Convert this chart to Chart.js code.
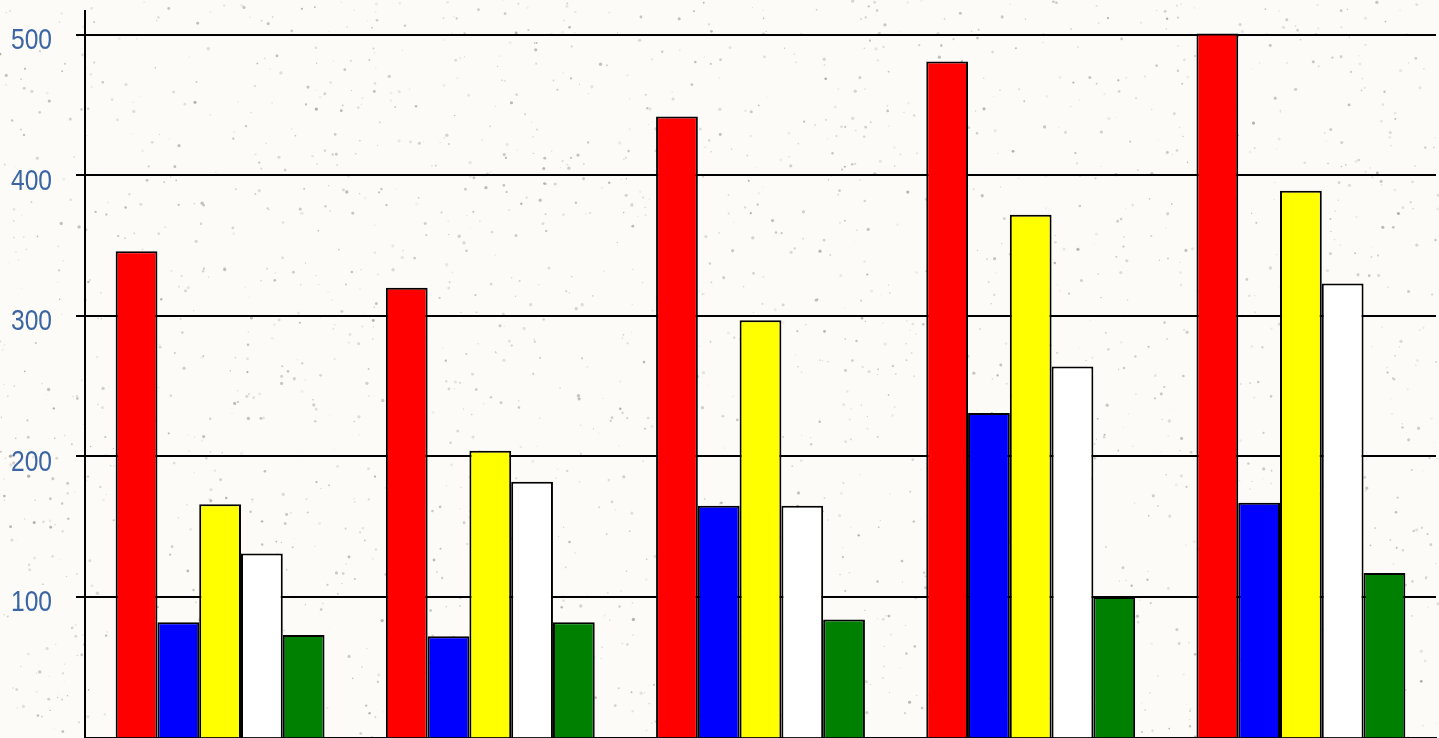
<!DOCTYPE html>
<html>
<head>
<meta charset="utf-8">
<script src="https://cdn.jsdelivr.net/npm/chart.js@4/dist/chart.umd.min.js"></script>
<style>
  html, body { margin: 0; padding: 0; overflow: hidden; background: #fcfbf8; }
  #wrap { width: 1439px; height: 738px; position: relative; }
</style>
</head>
<body>
<div id="wrap"><canvas id="c" width="1439" height="738"></canvas></div>
<script>
// Five groups, five series per group
const categories = ['1', '2', '3', '4', '5'];
const seriesRed    = [346, 320, 442, 481, 501];
const seriesBlue   = [82, 72, 165, 231, 167];
const seriesYellow = [166, 204, 297, 372, 389];
const seriesWhite  = [131, 182, 165, 264, 323];
const seriesGreen  = [73, 82, 84, 100, 117];
const yTicks = [100, 200, 300, 400, 500];

// Speckled paper background, drawn behind everything
const paperPlugin = {
  id: 'paper',
  beforeDraw(chart) {
    const ctx = chart.ctx;
    const w = chart.width, h = chart.height;
    ctx.save();
    ctx.fillStyle = '#fcfbf8';
    ctx.fillRect(0, 0, w, h);
    let seed = 12345;
    const rnd = () => { seed = (seed * 1103515245 + 12345) & 0x7fffffff; return seed / 0x7fffffff; };
    for (let i = 0; i < 2400; i++) {
      const x = rnd() * w, y = rnd() * h;
      const r = 0.5 + rnd() * 1.2;
      const a = 0.08 + rnd() * 0.4;
      const g = 90 + Math.floor(rnd() * 60);
      ctx.fillStyle = `rgba(${g},${g - 4},${g - 8},${a})`;
      ctx.beginPath();
      ctx.arc(x, y, r, 0, Math.PI * 2);
      ctx.fill();
    }
    ctx.restore();
  }
};

// Tall, narrow value labels placed on the y scale's tick positions
const yLabelPlugin = {
  id: 'yLabels',
  afterDraw(chart) {
    const ctx = chart.ctx;
    const scale = chart.scales.y;
    const right = scale.right - 9 - 24;
    ctx.save();
    ctx.fillStyle = '#3b66a3';
    ctx.font = "30px 'Liberation Sans', Arial, sans-serif";
    ctx.textAlign = 'right';
    ctx.textBaseline = 'middle';
    for (const v of yTicks) {
      const y = scale.getPixelForValue(v) + 6;
      ctx.save();
      ctx.translate(right, y);
      ctx.scale(0.82, 1);
      ctx.fillText(String(v), 0, 0);
      ctx.restore();
    }
    ctx.restore();
  }
};

const barStyle = { borderColor: '#000', borderWidth: 2, categoryPercentage: 0.773, barPercentage: 1.0 };

new Chart(document.getElementById('c'), {
  type: 'bar',
  data: {
    labels: categories,
    datasets: [
      { label: 'Red',    data: seriesRed,    backgroundColor: '#ff0000', ...barStyle },
      { label: 'Blue',   data: seriesBlue,   backgroundColor: '#0000ff', ...barStyle },
      { label: 'Yellow', data: seriesYellow, backgroundColor: '#ffff00', ...barStyle },
      { label: 'White',  data: seriesWhite,  backgroundColor: '#ffffff', ...barStyle },
      { label: 'Green',  data: seriesGreen,  backgroundColor: '#008000', ...barStyle }
    ]
  },
  options: {
    responsive: false,
    animation: false,
    devicePixelRatio: 1,
    layout: { padding: { top: 11, right: 3, bottom: 0.5, left: 0 } },
    plugins: { legend: { display: false }, tooltip: { enabled: false } },
    scales: {
      x: {
        grid: { display: false },
        ticks: { display: false },
        border: { color: '#000', width: 2 },
        afterFit(s) { s.height = 0; s.paddingLeft = 0; s.paddingRight = 0; }
      },
      y: {
        min: 0,
        max: 517,
        afterBuildTicks(s) { s.ticks = yTicks.map(v => ({ value: v })); },
        afterFit(s) { s.width = 85; s.paddingTop = 0; s.paddingBottom = 0; },
        grid: { color: '#000', lineWidth: 2, tickLength: 9, drawTicks: true },
        border: { color: '#000', width: 2 },
        ticks: { display: false }
      }
    }
  },
  plugins: [paperPlugin, yLabelPlugin]
});
</script>
</body>
</html>
